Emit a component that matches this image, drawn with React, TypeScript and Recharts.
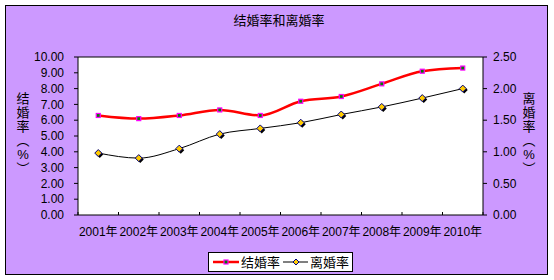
import { CartesianGrid, Line, LineChart, ReferenceLine, XAxis, YAxis } from 'recharts'

const years = ['2001年', '2002年', '2003年', '2004年', '2005年', '2006年', '2007年', '2008年', '2009年', '2010年']
const marriageRate = [6.3, 6.1, 6.3, 6.65, 6.3, 7.2, 7.5, 8.3, 9.1, 9.3]
const divorceRate = [0.98, 0.9, 1.05, 1.28, 1.37, 1.46, 1.59, 1.71, 1.85, 2.0]
const leftTicks = [0, 1, 2, 3, 4, 5, 6, 7, 8, 9, 10]
const rightTicks = [0, 0.5, 1, 1.5, 2, 2.5]

const data = years.map((year, i) => ({
  year,
  marriage: marriageRate[i],
  divorce: divorceRate[i],
}))

const FONT = '"Liberation Sans", Arial, "Noto Sans CJK SC", sans-serif'
const PLOT_LEFT = 78
const PLOT_RIGHT = 483
const BAND = (PLOT_RIGHT - PLOT_LEFT) / years.length

const XTick = (props: any) => {
  const { x, y, payload, index } = props
  const half = BAND / 2
  return (
    <g>
      <line x1={x - half} x2={x - half} y1={y - 3} y2={y} stroke='#000' />
      {index === years.length - 1 && (
        <line x1={x + half} x2={x + half} y1={y - 3} y2={y} stroke='#000' />
      )}
      <text x={x} y={y + 21} textAnchor='middle' fontSize={12} fill='#000' fontFamily={FONT}>
        {payload.value}
      </text>
    </g>
  )
}

const MarriageDot = (props: any) => {
  const { cx, cy } = props
  if (cx == null || cy == null) return null
  return <rect x={cx - 2} y={cy - 2} width={4} height={4} fill='#008000' stroke='#FF00FF' strokeWidth={1.2} />
}

const diamond = (cx: number, cy: number, r: number) =>
  `M${cx},${cy - r} L${cx + r},${cy} L${cx},${cy + r} L${cx - r},${cy} Z`

const DivorceDot = (props: any) => {
  const { cx, cy } = props
  if (cx == null || cy == null) return null
  return (
    <g>
      <path d={diamond(cx + 1.5, cy + 1.5, 3.5)} fill='#000' />
      <path d={diamond(cx, cy, 3.5)} fill='#FFCC00' stroke='#000080' strokeWidth={1} />
    </g>
  )
}

const VerticalLabel = ({ chars, left }: { chars: string[]; left: number }) => (
  <div
    style={{
      position: 'absolute',
      left,
      top: 92,
      width: 16,
      textAlign: 'center',
      fontSize: 13,
      lineHeight: '14px',
      fontFamily: FONT,
    }}
  >
    {chars.map((c, i) => (
      <div key={i}>{c}</div>
    ))}
  </div>
)

export default function App() {
  return (
    <div style={{ position: 'absolute', left: 0, top: 0, width: 554, height: 280, fontFamily: FONT }}>
      <div
        style={{
          position: 'absolute',
          left: 5,
          top: 5,
          width: 543,
          height: 270,
          boxSizing: 'border-box',
          border: '1px solid #000',
          background: '#CC99FF',
        }}
      />
      <div
        style={{ position: 'absolute', left: 0, top: 10, width: 558, textAlign: 'center', fontSize: 13 }}
      >
        结婚率和离婚率
      </div>
      <VerticalLabel chars={['结', '婚', '率', '︵', '%', '︶']} left={15} />
      <VerticalLabel chars={['离', '婚', '率', '︵', '%', '︶']} left={521} />
      <div style={{ position: 'absolute', left: 0, top: 0 }}>
        <LineChart width={554} height={280} data={data} margin={{ top: 57, right: 0, bottom: 35, left: 0 }}>
          <CartesianGrid horizontal={false} vertical={false} fill='#fff' />
          <XAxis
            dataKey='year'
            scale='band'
            interval={0}
            height={30}
            tickSize={0}
            tickMargin={0}
            tickLine={false}
            axisLine={{ stroke: '#000' }}
            tick={<XTick />}
          />
          <YAxis
            yAxisId='left'
            width={PLOT_LEFT}
            domain={[0, 10]}
            ticks={leftTicks}
            interval={0}
            tickFormatter={(v) => Number(v).toFixed(2)}
            tickSize={4}
            tickMargin={10}
            axisLine={{ stroke: '#000' }}
            tickLine={{ stroke: '#000' }}
            tick={{ fill: '#000', fontSize: 12, fontFamily: FONT }}
          />
          <YAxis
            yAxisId='right'
            orientation='right'
            width={554 - PLOT_RIGHT}
            domain={[0, 2.5]}
            ticks={rightTicks}
            interval={0}
            tickFormatter={(v) => Number(v).toFixed(2)}
            tickSize={4}
            tickMargin={6}
            axisLine={{ stroke: '#000' }}
            tickLine={{ stroke: '#000' }}
            tick={{ fill: '#000', fontSize: 12, fontFamily: FONT, textAnchor: 'start' }}
          />
          <ReferenceLine yAxisId='left' y={10} stroke='#000' />
          <Line
            yAxisId='left'
            type='monotone'
            dataKey='marriage'
            stroke='#FF0000'
            strokeWidth={2.5}
            dot={<MarriageDot />}
            activeDot={false}
            isAnimationActive={false}
          />
          <Line
            yAxisId='right'
            type='monotone'
            dataKey='divorce'
            stroke='#000'
            strokeWidth={1}
            dot={<DivorceDot />}
            activeDot={false}
            isAnimationActive={false}
          />
        </LineChart>
      </div>
      <div
        style={{
          position: 'absolute',
          left: 208,
          top: 252,
          width: 145,
          height: 20,
          boxSizing: 'border-box',
          border: '1px solid #000',
          background: '#fff',
        }}
      >
        <svg width={143} height={18} style={{ position: 'absolute', left: 0, top: 0 }}>
          <line x1={4} x2={30} y1={9} y2={9} stroke='#FF0000' strokeWidth={2.5} />
          <rect x={15} y={7} width={4} height={4} fill='#008000' stroke='#FF00FF' strokeWidth={1.2} />
          <text x={32} y={14} fontSize={13} fontFamily={FONT}>结婚率</text>
          <line x1={74} x2={99} y1={9} y2={9} stroke='#000' strokeWidth={1} />
          <path d={diamond(87, 9, 3)} fill='#FFCC00' stroke='#000080' strokeWidth={1} />
          <text x={101} y={14} fontSize={13} fontFamily={FONT}>离婚率</text>
        </svg>
      </div>
    </div>
  )
}
